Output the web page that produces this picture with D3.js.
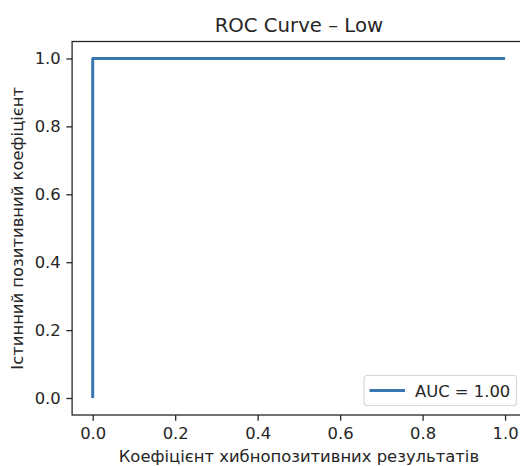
<!DOCTYPE html>
<html>
<head>
<meta charset="utf-8">
<script src="https://cdn.jsdelivr.net/npm/d3@7"></script>
<style>
  html, body { margin: 0; padding: 0; background: #ffffff; }
  svg { display: block; }
  text { font-family: "DejaVu Sans", sans-serif; fill: #262626; }
</style>
</head>
<body>
<svg id="chart" width="520" height="466"></svg>
<script>
// ---- data ----
const fpr = [0.0, 0.0, 1.0];
const tpr = [0.0, 1.0, 1.0];
const xTicks = [0.0, 0.2, 0.4, 0.6, 0.8, 1.0];
const yTicks = [0.0, 0.2, 0.4, 0.6, 0.8, 1.0];
const titleText = "ROC Curve – Low";
const xLabel = "Коефіцієнт хибнопозитивних результатів";
const yLabel = "Істинний позитивний коефіцієнт";
const legendLabel = "AUC = 1.00";

(function () {
// ---- layout ----
const pLeft = 72.1, pRight = 525.7, pTop = 41.5, pBottom = 415;
const lineColor = "#3a76b0";
const fs = 16.4;
const svg = d3.select("#chart");

const x = d3.scaleLinear().domain([-0.05, 1.05]).range([pLeft, pRight]);
const y = d3.scaleLinear().domain([-0.05, 1.05]).range([pBottom, pTop]);

const fmt = d3.format(".1f");
const tickLen = 5.7, tickPad = 5.7;

const xAxis = svg.append("g").attr("transform", `translate(0,${pBottom})`)
  .call(d3.axisBottom(x).tickValues(xTicks).tickFormat(fmt).tickSize(tickLen).tickPadding(tickPad));
const yAxis = svg.append("g").attr("transform", `translate(${pLeft},0)`)
  .call(d3.axisLeft(y).tickValues(yTicks).tickFormat(fmt).tickSize(tickLen).tickPadding(tickPad));

[xAxis, yAxis].forEach(g => {
  g.select(".domain").remove();
  g.selectAll(".tick line").attr("stroke", "#262626").attr("stroke-width", 1.3);
  g.selectAll(".tick text").attr("font-family", "DejaVu Sans").attr("font-size", fs + "px").attr("fill", "#262626");
});
xAxis.selectAll(".tick text").attr("dy", "0.78em");

svg.append("rect")
  .attr("x", pLeft).attr("y", pTop)
  .attr("width", pRight - pLeft).attr("height", pBottom - pTop)
  .attr("fill", "none").attr("stroke", "#262626").attr("stroke-width", 1.3);

const pts = fpr.map((d, i) => [d, tpr[i]]);
const line = d3.line().x(d => x(d[0])).y(d => y(d[1]));
svg.append("path")
  .datum(pts)
  .attr("d", line)
  .attr("fill", "none")
  .attr("stroke", lineColor)
  .attr("stroke-width", 3)
  .attr("stroke-linejoin", "round");

svg.append("text")
  .attr("x", (pLeft + pRight) / 2).attr("y", 31.5)
  .attr("text-anchor", "middle")
  .attr("font-size", "19.7px")
  .text(titleText);

svg.append("text")
  .attr("x", (pLeft + pRight) / 2).attr("y", 462)
  .attr("text-anchor", "middle")
  .attr("font-size", fs + "px")
  .text(xLabel);

svg.append("text")
  .attr("transform", `translate(23,${(pTop + pBottom) / 2}) rotate(-90)`)
  .attr("text-anchor", "middle")
  .attr("font-size", fs + "px")
  .text(yLabel);

const lg = svg.append("g");
lg.append("rect")
  .attr("x", 364).attr("y", 375.5)
  .attr("width", 152.5).attr("height", 30)
  .attr("rx", 3).attr("ry", 3)
  .attr("fill", "#ffffff").attr("fill-opacity", 0.8)
  .attr("stroke", "#d6d6d6").attr("stroke-width", 1.1);
lg.append("line")
  .attr("x1", 369.5).attr("x2", 405).attr("y1", 390.5).attr("y2", 390.5)
  .attr("stroke", lineColor).attr("stroke-width", 3);
lg.append("text")
  .attr("x", 415).attr("y", 396.5)
  .attr("font-size", fs + "px")
  .text(legendLabel);
})();
</script>
</body>
</html>
